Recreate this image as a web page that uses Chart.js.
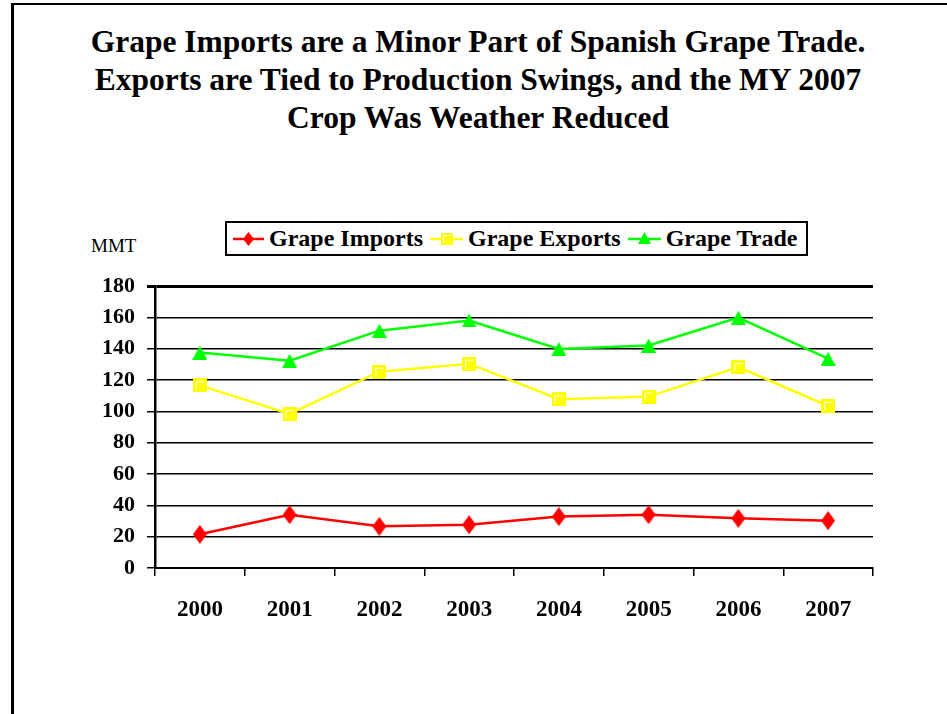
<!DOCTYPE html>
<html><head><meta charset="utf-8">
<script src="https://cdn.jsdelivr.net/npm/chart.js@4/dist/chart.umd.min.js"></script>
<style>
html,body{margin:0;padding:0;background:#fff}
body{width:947px;height:714px;overflow:hidden;position:relative;font-family:'Liberation Serif','Times New Roman',serif;color:#000}
#frame{position:absolute;left:11px;top:3px;width:960px;height:760px;border-left:3px solid #000;border-top:2px solid #000}
#title{position:absolute;left:0;width:956px;top:23px;text-align:center;font-weight:bold;font-size:31.5px;line-height:38px;font-family:'Liberation Serif','Times New Roman',serif}
#mmt{position:absolute;left:91px;top:235px;font-size:19px;font-family:'Liberation Serif','Times New Roman',serif}
#legend{position:absolute;left:225px;top:221px;width:579px;height:31px;border:2px solid #000;display:flex;align-items:center;font-weight:bold;font-size:24px;white-space:nowrap;background:#fff;font-family:'Liberation Serif','Times New Roman',serif}
#legend .it{display:flex;align-items:center;margin-left:7px}
#legend .it:first-child{margin-left:6px}
#legend svg{margin-right:5px}
#c{position:absolute;left:0;top:0}
</style></head>
<body>
<div id="frame"></div>
<div id="title">Grape Imports are a Minor Part of Spanish Grape Trade.<br>Exports are Tied to Production Swings, and the MY 2007<br>Crop Was Weather Reduced</div>
<div id="mmt">MMT</div>
<div id="legend">
 <div class="it"><svg width="31" height="20"><line x1="0" y1="10" x2="31" y2="10" stroke="#ff0000" stroke-width="2.5"/><polygon points="15.5,3 21,10 15.5,17 10,10" fill="#ff0000"/></svg><span>Grape Imports</span></div>
 <div class="it"><svg width="33" height="20"><line x1="0" y1="10" x2="33" y2="10" stroke="#ffff00" stroke-width="2.5"/><rect x="11" y="4" width="12" height="12" fill="#ffff00"/><path d="M13.5 13.5 V6.5 H20.5" fill="none" stroke="#fff" stroke-width="1"/></svg><span>Grape Exports</span></div>
 <div class="it"><svg width="33" height="20"><line x1="0" y1="10" x2="33" y2="10" stroke="#00ff00" stroke-width="2.5"/><polygon points="16.5,3 23,15 10,15" fill="#00ff00"/></svg><span>Grape Trade</span></div>
</div>
<canvas id="c" width="947" height="714"></canvas>
<script>
const years = ["2000","2001","2002","2003","2004","2005","2006","2007"];
const grapeImports = [21.5, 34, 26.6, 27.6, 32.8, 34, 31.7, 30.2];
const grapeExports = [116.6, 98.3, 125.3, 130.4, 107.7, 109.4, 128.3, 103.4];
const grapeTrade = [137.5, 132.3, 151.5, 158, 139.8, 142, 159.8, 133.6];
const yTicks = [0,20,40,60,80,100,120,140,160,180];

function mk(w,h,draw){const c=document.createElement('canvas');c.width=w;c.height=h;draw(c.getContext('2d'));return c;}
const diamond = mk(14,19,g=>{g.fillStyle='#ff0000';g.beginPath();g.moveTo(7,0);g.lineTo(14,9.5);g.lineTo(7,19);g.lineTo(0,9.5);g.closePath();g.fill();});
const square = mk(14,14,g=>{g.fillStyle='#ffff00';g.fillRect(0,0,14,14);g.strokeStyle='#ffffff';g.lineWidth=1;g.beginPath();g.moveTo(3.5,11);g.lineTo(3.5,3.5);g.lineTo(11,3.5);g.stroke();});
const tri = mk(15,14,g=>{g.fillStyle='#00ff00';g.beginPath();g.moveTo(7.5,0);g.lineTo(15,14);g.lineTo(0,14);g.closePath();g.fill();});

const FONT = "'Liberation Serif','Times New Roman',serif";
new Chart(document.getElementById('c'), {
  type: 'line',
  data: {
    labels: years,
    datasets: [
      {label:'Grape Imports', data: grapeImports, borderColor:'#ff0000', backgroundColor:'#ff0000', borderWidth:2.5, pointStyle: diamond, tension:0},
      {label:'Grape Exports', data: grapeExports, borderColor:'#ffff00', backgroundColor:'#ffff00', borderWidth:2.5, pointStyle: square, tension:0},
      {label:'Grape Trade', data: grapeTrade, borderColor:'#00ff00', backgroundColor:'#00ff00', borderWidth:2.5, pointStyle: tri, tension:0}
    ]
  },
  options: {
    responsive: false,
    animation: false,
    layout: {padding: {top: 286, left: 0, right: 74, bottom: 0}},
    plugins: {legend: {display: false}, title: {display: false}, tooltip: {enabled: false}},
    scales: {
      x: {
        offset: true,
        afterFit: s => { s.height = 714 - 568; },
        grid: {offset: true, drawOnChartArea: false, drawTicks: true, tickLength: 8, color: '#000', lineWidth: 1.5},
        border: {display: true, color: '#000', width: 2},
        ticks: {color: '#000', font: {family: FONT, size: 23, weight: 'bold'}, padding: 20, maxRotation: 0}
      },
      y: {
        min: 0, max: 180,
        afterFit: s => { s.width = 155; },
        afterBuildTicks: s => { s.ticks = yTicks.map(v => ({value: v})); },
        grid: {color: '#000', lineWidth: c => (c.tick && c.tick.value === 180) ? 3 : 1.5, tickLength: 8, drawTicks: true},
        border: {display: true, color: '#000', width: 2.5},
        ticks: {color: '#000', font: {family: FONT, size: 22, weight: 'bold'}, padding: 12}
      }
    }
  }
});
</script>
</body></html>
